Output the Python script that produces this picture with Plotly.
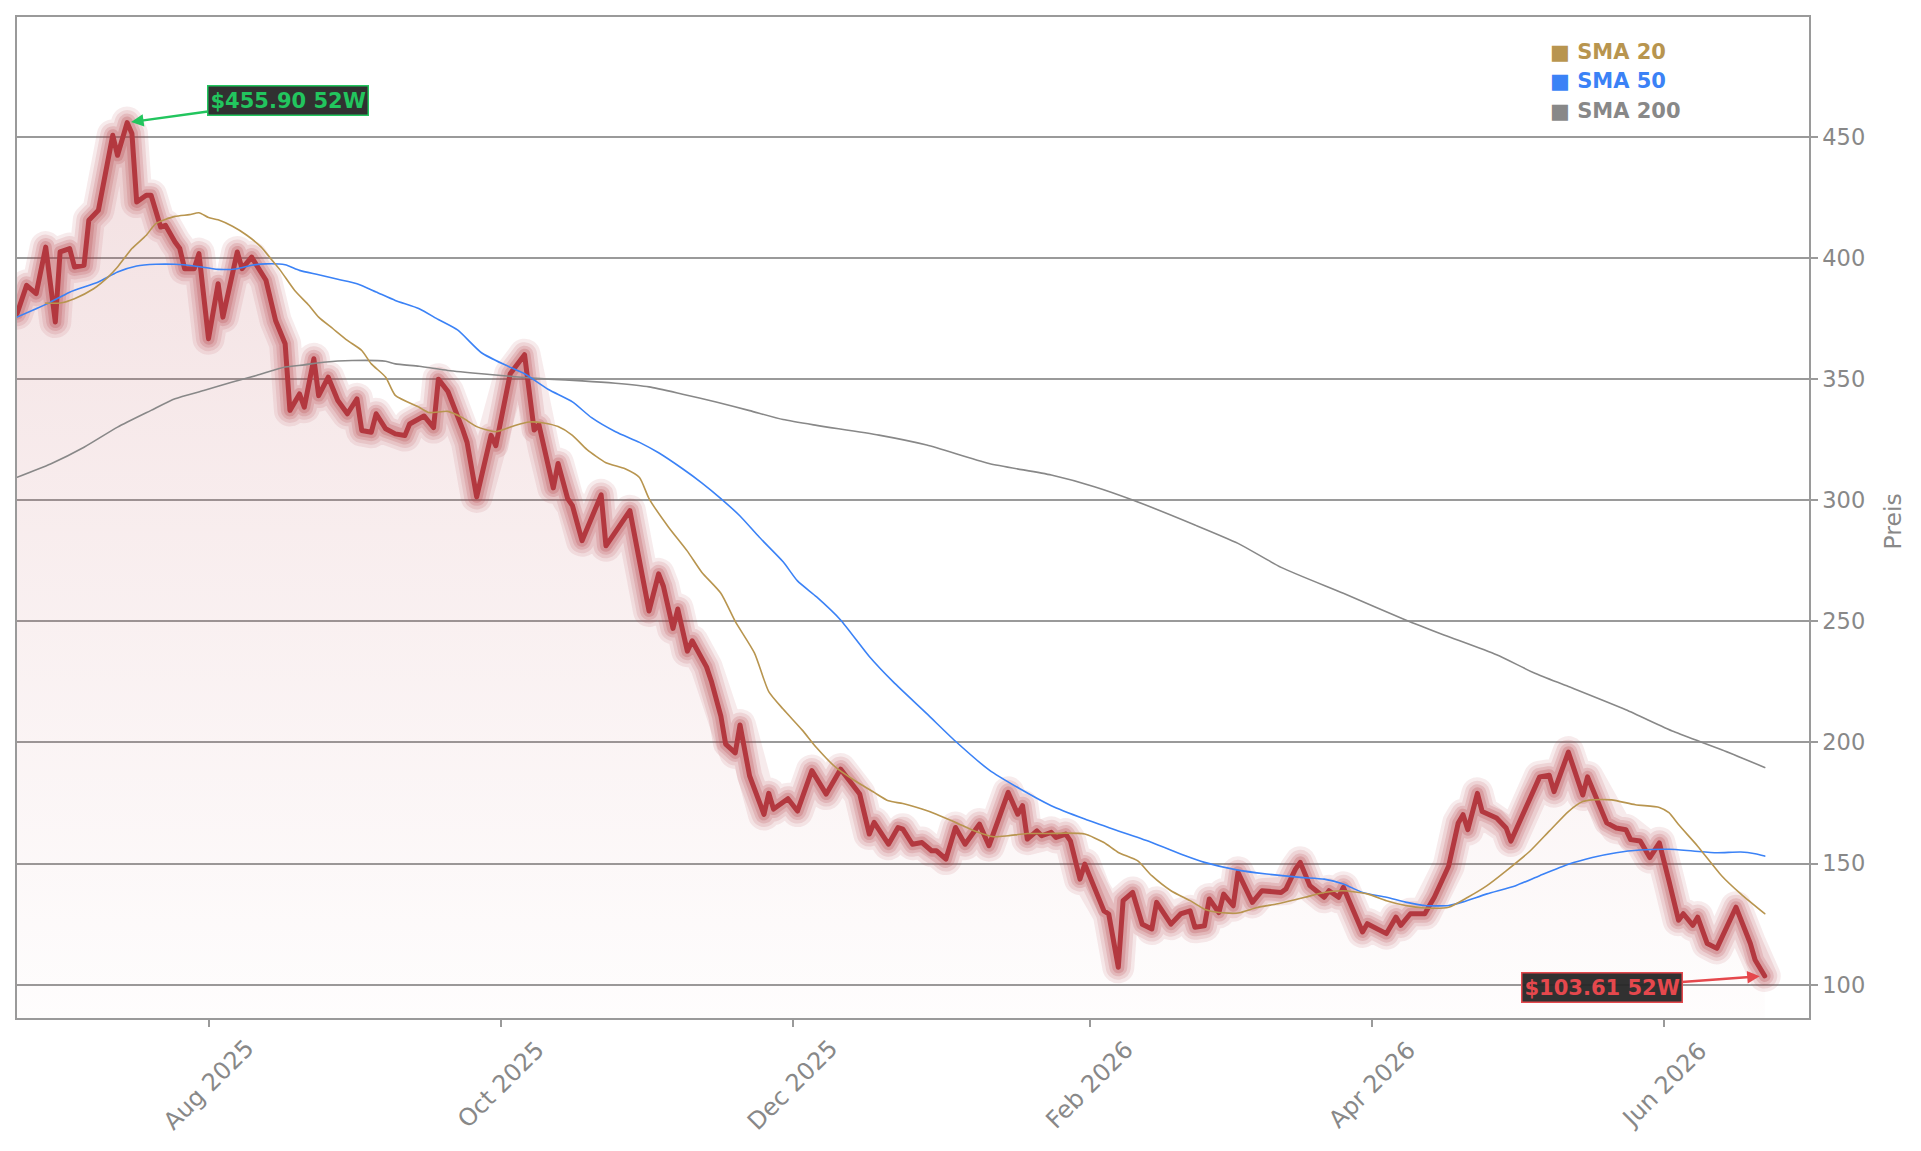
import plotly.graph_objects as go

# ---------------- data ----------------
price_dates = [
    "2025-06-22", "2025-06-24", "2025-06-26", "2025-06-28", "2025-06-30", "2025-07-01", "2025-07-03", "2025-07-04",
    "2025-07-06", "2025-07-07", "2025-07-09", "2025-07-12", "2025-07-13", "2025-07-15", "2025-07-16", "2025-07-17",
    "2025-07-19", "2025-07-20", "2025-07-22", "2025-07-23", "2025-07-25", "2025-07-26", "2025-07-27", "2025-07-29",
    "2025-07-30", "2025-08-01", "2025-08-03", "2025-08-04", "2025-08-07", "2025-08-08", "2025-08-10", "2025-08-13",
    "2025-08-15", "2025-08-17", "2025-08-18", "2025-08-20", "2025-08-21", "2025-08-23", "2025-08-24", "2025-08-26",
    "2025-08-28", "2025-08-30", "2025-09-01", "2025-09-02", "2025-09-04", "2025-09-05", "2025-09-07", "2025-09-09",
    "2025-09-11", "2025-09-12", "2025-09-15", "2025-09-17", "2025-09-18", "2025-09-20", "2025-09-23", "2025-09-24",
    "2025-09-26", "2025-09-27", "2025-09-29", "2025-09-30", "2025-10-03", "2025-10-06", "2025-10-08", "2025-10-09",
    "2025-10-10", "2025-10-12", "2025-10-13", "2025-10-15", "2025-10-16", "2025-10-18", "2025-10-22", "2025-10-23",
    "2025-10-28", "2025-11-01", "2025-11-03", "2025-11-04", "2025-11-06", "2025-11-07", "2025-11-09", "2025-11-10",
    "2025-11-13", "2025-11-14", "2025-11-16", "2025-11-17", "2025-11-19", "2025-11-20", "2025-11-22", "2025-11-25",
    "2025-11-26", "2025-11-27", "2025-11-30", "2025-12-02", "2025-12-05", "2025-12-08", "2025-12-11", "2025-12-13",
    "2025-12-15", "2025-12-17", "2025-12-18", "2025-12-21", "2025-12-23", "2025-12-24", "2025-12-26", "2025-12-28",
    "2025-12-30", "2025-12-31", "2026-01-02", "2026-01-04", "2026-01-06", "2026-01-09", "2026-01-11", "2026-01-13",
    "2026-01-15", "2026-01-17", "2026-01-18", "2026-01-19", "2026-01-21", "2026-01-22", "2026-01-24", "2026-01-25",
    "2026-01-27", "2026-01-28", "2026-01-30", "2026-01-31", "2026-02-02", "2026-02-04", "2026-02-05", "2026-02-07",
    "2026-02-08", "2026-02-10", "2026-02-12", "2026-02-14", "2026-02-15", "2026-02-18", "2026-02-20", "2026-02-22",
    "2026-02-23", "2026-02-25", "2026-02-26", "2026-02-28", "2026-03-01", "2026-03-03", "2026-03-04", "2026-03-07",
    "2026-03-09", "2026-03-13", "2026-03-14", "2026-03-16", "2026-03-17", "2026-03-19", "2026-03-22", "2026-03-23",
    "2026-03-25", "2026-03-26", "2026-03-30", "2026-03-31", "2026-04-04", "2026-04-06", "2026-04-07", "2026-04-09",
    "2026-04-12", "2026-04-14", "2026-04-17", "2026-04-19", "2026-04-20", "2026-04-21", "2026-04-23", "2026-04-24",
    "2026-04-27", "2026-04-29", "2026-04-30", "2026-05-04", "2026-05-06", "2026-05-08", "2026-05-09", "2026-05-12",
    "2026-05-14", "2026-05-15", "2026-05-16", "2026-05-20", "2026-05-22", "2026-05-24", "2026-05-25", "2026-05-27",
    "2026-05-29", "2026-05-31", "2026-06-02", "2026-06-04", "2026-06-05", "2026-06-07", "2026-06-08", "2026-06-10",
    "2026-06-12", "2026-06-14", "2026-06-16", "2026-06-19", "2026-06-20", "2026-06-22",
]
price_values = [
    377.0, 388.7, 385.3, 404.5, 373.6, 402.5, 403.9, 396.3,
    397.0, 415.6, 419.7, 450.7, 442.4, 455.9, 451.4, 423.1,
    425.9, 425.9, 412.8, 413.5, 406.6, 403.9, 395.6, 395.6,
    401.8, 366.7, 389.4, 375.6, 402.5, 395.6, 400.4, 390.8,
    374.2, 364.6, 337.1, 343.9, 338.4, 358.4, 343.2, 350.8,
    341.2, 335.7, 341.9, 328.8, 328.1, 335.7, 329.5, 327.4,
    326.7, 331.5, 334.8, 330.0, 350.0, 344.9, 329.7, 323.9,
    301.4, 309.4, 326.8, 322.5, 352.2, 360.1, 329.0, 331.2,
    321.7, 305.1, 315.2, 300.7, 297.8, 283.3, 302.2, 281.2,
    295.7, 254.3, 269.6, 264.5, 247.1, 255.1, 237.7, 242.0,
    231.2, 225.4, 210.9, 199.3, 195.7, 207.2, 186.2, 170.3,
    179.0, 172.5, 176.8, 171.7, 188.4, 178.7, 189.0, 184.2,
    178.7, 162.2, 167.0, 158.0, 164.9, 164.2, 158.0, 158.7,
    155.3, 155.3, 151.9, 164.9, 158.0, 166.3, 157.4, 168.4,
    179.4, 170.4, 173.9, 160.1, 163.5, 161.5, 162.9, 160.8,
    162.2, 159.4, 143.6, 149.8, 139.5, 130.5, 129.2, 107.2,
    134.7, 138.1, 125.0, 123.0, 134.0, 125.0, 129.2, 130.5,
    123.7, 124.3, 135.4, 129.8, 137.4, 132.6, 146.4, 134.0,
    138.8, 138.1, 139.5, 147.7, 150.5, 140.9, 136.1, 138.8,
    136.1, 140.2, 121.8, 125.2, 121.1, 127.9, 124.5, 129.3,
    129.3, 136.1, 149.0, 166.8, 170.2, 164.0, 179.0, 171.5,
    168.8, 164.7, 159.3, 177.7, 185.8, 186.5, 179.7, 196.0,
    183.1, 178.3, 185.8, 166.8, 164.7, 164.0, 159.9, 159.3,
    152.5, 158.6, 142.9, 126.6, 129.3, 124.5, 127.9, 117.0,
    115.0, 123.2, 132.0, 117.0, 110.2, 103.61,
]

sma20_dates = [
    "2025-06-28", "2025-07-01", "2025-07-04", "2025-07-08", "2025-07-11", "2025-07-13", "2025-07-16", "2025-07-19",
    "2025-07-21", "2025-07-25", "2025-07-28", "2025-07-30", "2025-08-01", "2025-08-03", "2025-08-06", "2025-08-09",
    "2025-08-12", "2025-08-14", "2025-08-16", "2025-08-19", "2025-08-22", "2025-08-24", "2025-08-27", "2025-08-30",
    "2025-09-02", "2025-09-04", "2025-09-07", "2025-09-09", "2025-09-14", "2025-09-16", "2025-09-20", "2025-09-23",
    "2025-09-26", "2025-09-30", "2025-10-04", "2025-10-07", "2025-10-10", "2025-10-13", "2025-10-16", "2025-10-19",
    "2025-10-23", "2025-10-27", "2025-10-30", "2025-11-01", "2025-11-05", "2025-11-09", "2025-11-12", "2025-11-16",
    "2025-11-19", "2025-11-23", "2025-11-26", "2025-11-29", "2025-12-03", "2025-12-06", "2025-12-10", "2025-12-14",
    "2025-12-18", "2025-12-21", "2025-12-24", "2025-12-28", "2025-12-31", "2026-01-04", "2026-01-08", "2026-01-12",
    "2026-01-15", "2026-01-19", "2026-01-23", "2026-01-27", "2026-01-31", "2026-02-04", "2026-02-07", "2026-02-11",
    "2026-02-14", "2026-02-18", "2026-02-22", "2026-02-25", "2026-02-28", "2026-03-04", "2026-03-08", "2026-03-12",
    "2026-03-15", "2026-03-18", "2026-03-22", "2026-03-26", "2026-03-31", "2026-04-04", "2026-04-08", "2026-04-12",
    "2026-04-17", "2026-04-21", "2026-04-25", "2026-04-29", "2026-05-04", "2026-05-08", "2026-05-12", "2026-05-15",
    "2026-05-17", "2026-05-21", "2026-05-26", "2026-05-31", "2026-06-02", "2026-06-04", "2026-06-08", "2026-06-13",
    "2026-06-17", "2026-06-22",
]
sma20_values = [
    381.4, 381.4, 383.2, 387.3, 392.1, 396.3, 403.9, 409.4,
    414.2, 417.2, 417.9, 418.7, 416.7, 415.8, 413.1, 409.4,
    404.5, 399.7, 394.9, 386.6, 380.4, 375.6, 370.8, 366.0,
    361.8, 356.3, 350.8, 343.3, 338.4, 336.2, 336.7, 334.1,
    330.4, 328.3, 330.9, 332.3, 331.9, 330.4, 326.8, 321.0,
    315.5, 313.0, 309.4, 300.7, 289.1, 279.0, 270.3, 261.6,
    250.0, 237.0, 221.0, 213.8, 205.1, 197.8, 189.7, 184.2,
    179.4, 175.9, 174.8, 172.5, 170.4, 167.0, 163.5, 161.1,
    161.5, 162.4, 162.4, 162.6, 162.2, 158.7, 154.6, 151.2,
    145.0, 138.8, 134.7, 131.2, 129.8, 129.6, 131.9, 133.3,
    134.7, 136.1, 138.1, 138.8, 137.5, 134.7, 132.7, 131.7,
    132.0, 136.1, 140.9, 147.0, 155.2, 163.4, 171.5, 175.6,
    176.3, 176.3, 174.3, 173.2, 171.0, 166.1, 157.2, 145.0,
    137.5, 129.3,
]

sma50_dates = [
    "2025-06-22", "2025-06-26", "2025-06-29", "2025-07-03", "2025-07-09", "2025-07-13", "2025-07-17", "2025-07-21",
    "2025-07-25", "2025-07-29", "2025-08-03", "2025-08-07", "2025-08-10", "2025-08-13", "2025-08-17", "2025-08-20",
    "2025-08-24", "2025-08-28", "2025-09-01", "2025-09-05", "2025-09-09", "2025-09-14", "2025-09-18", "2025-09-22",
    "2025-09-27", "2025-10-02", "2025-10-06", "2025-10-11", "2025-10-16", "2025-10-20", "2025-10-25", "2025-10-30",
    "2025-11-03", "2025-11-08", "2025-11-12", "2025-11-16", "2025-11-20", "2025-11-24", "2025-11-29", "2025-12-02",
    "2025-12-06", "2025-12-11", "2025-12-17", "2025-12-22", "2025-12-29", "2026-01-04", "2026-01-11", "2026-01-17",
    "2026-01-24", "2026-01-31", "2026-02-07", "2026-02-14", "2026-02-21", "2026-02-25", "2026-03-04", "2026-03-10",
    "2026-03-17", "2026-03-22", "2026-03-26", "2026-03-30", "2026-04-04", "2026-04-08", "2026-04-12", "2026-04-17",
    "2026-04-20", "2026-04-25", "2026-05-01", "2026-05-06", "2026-05-12", "2026-05-17", "2026-05-22", "2026-05-27",
    "2026-06-02", "2026-06-07", "2026-06-12", "2026-06-17", "2026-06-20", "2026-06-22",
]
sma50_values = [
    375.6, 379.1, 381.8, 385.9, 390.1, 394.2, 396.7, 397.4,
    397.4, 396.7, 395.3, 395.6, 397.0, 397.6, 397.2, 394.9,
    393.1, 391.2, 389.4, 386.0, 382.5, 379.1, 374.6, 370.3,
    360.9, 355.8, 352.2, 345.7, 340.6, 334.1, 328.3, 323.9,
    319.6, 313.0, 307.2, 300.7, 293.5, 284.8, 274.6, 266.7,
    260.1, 250.6, 235.5, 225.0, 211.9, 200.5, 188.7, 181.4,
    173.9, 168.4, 163.5, 158.7, 153.2, 150.5, 147.3, 145.7,
    144.3, 143.6, 141.6, 138.1, 136.1, 134.1, 132.7, 132.7,
    134.2, 137.5, 140.9, 145.0, 149.7, 152.5, 154.5, 155.6,
    155.9, 155.2, 154.5, 154.8, 154.1, 153.1,
]

sma200_dates = [
    "2025-06-22", "2025-06-29", "2025-07-06", "2025-07-13", "2025-07-20", "2025-07-25", "2025-07-31", "2025-08-06",
    "2025-08-11", "2025-08-17", "2025-08-21", "2025-08-25", "2025-08-31", "2025-09-07", "2025-09-09", "2025-09-14",
    "2025-09-20", "2025-09-27", "2025-10-04", "2025-10-11", "2025-10-18", "2025-10-25", "2025-11-01", "2025-11-08",
    "2025-11-15", "2025-11-22", "2025-11-29", "2025-12-06", "2025-12-19", "2025-12-29", "2026-01-11", "2026-01-24",
    "2026-02-02", "2026-02-10", "2026-02-23", "2026-03-04", "2026-03-13", "2026-03-26", "2026-04-08", "2026-04-16",
    "2026-04-27", "2026-05-05", "2026-05-12", "2026-05-24", "2026-06-03", "2026-06-13", "2026-06-22",
]
sma200_values = [
    309.5, 315.0, 321.9, 330.2, 337.1, 341.9, 345.3, 348.8,
    351.5, 355.0, 355.9, 357.0, 357.7, 357.4, 356.3, 355.3,
    353.6, 352.2, 351.0, 350.0, 349.3, 348.3, 346.8, 343.8,
    340.6, 337.0, 333.3, 330.9, 326.9, 322.8, 315.2, 310.4,
    305.6, 300.1, 289.8, 282.2, 272.3, 261.6, 250.6, 244.4,
    236.2, 228.6, 223.1, 213.5, 204.5, 197.0, 189.7,
]

x_tick_dates = ["2025-08-01", "2025-10-01", "2025-12-01", "2026-02-01", "2026-04-01", "2026-06-01"]
x_tick_labels = ["Aug 2025", "Oct 2025", "Dec 2025", "Feb 2026", "Apr 2026", "Jun 2026"]
y_tick_values = [100, 150, 200, 250, 300, 350, 400, 450]

series_names = ["SMA 20", "SMA 50", "SMA 200"]
series_colors = ["#B8954F", "#3B82F6", "#888888"]

# ---------------- style ----------------
FONT = "DejaVu Sans"
GRAY = "#9a9a9a"
LABEL = "#888888"
RED = "#B3383F"
GREEN = "#22C55E"
LOWRED = "#E5484D"

fig = go.Figure()

# gradient fill under price
fig.add_trace(go.Scatter(
    x=price_dates, y=price_values, mode="lines", line=dict(width=0, color="rgba(0,0,0,0)"),
    fill="tozeroy",
    fillgradient=dict(type="vertical", start=60, stop=460,
                      colorscale=[[0, "rgba(178,58,66,0.0)"], [1, "rgba(178,58,66,0.16)"]]),
    hoverinfo="skip", showlegend=False,
))

# glow layers
for w, a in [(32, 0.10), (25, 0.13), (18, 0.17), (12, 0.22)]:
    fig.add_trace(go.Scatter(
        x=price_dates, y=price_values, mode="lines",
        line=dict(color=f"rgba(178,58,66,{a})", width=w),
        hoverinfo="skip", showlegend=False,
    ))

# price line
fig.add_trace(go.Scatter(
    x=price_dates, y=price_values, mode="lines", name="Preis",
    line=dict(color=RED, width=5), showlegend=False,
))

# SMA lines
for name, dts, vals, col in [
    ("SMA 200", sma200_dates, sma200_values, series_colors[2]),
    ("SMA 50", sma50_dates, sma50_values, series_colors[1]),
    ("SMA 20", sma20_dates, sma20_values, series_colors[0]),
]:
    fig.add_trace(go.Scatter(
        x=dts, y=vals, mode="lines", name=name,
        line=dict(color=col, width=1.6, shape="spline", smoothing=0.6),
        showlegend=False,
    ))

annotations = []

# rotated x tick labels centred on ticks
for d, lab in zip(x_tick_dates, x_tick_labels):
    annotations.append(dict(
        x=d, xref="x", y=0, yref="paper", yanchor="middle", xanchor="center",
        yshift=-67, text=lab, textangle=-45, showarrow=False,
        font=dict(family=FONT, size=24, color=LABEL),
    ))

# legend-like labels
for i, (name, col) in enumerate(zip(series_names, series_colors)):
    annotations.append(dict(
        x=0.8541, xref="paper", y=0.9650 - i * 0.0294, yref="paper",
        xanchor="left", yanchor="middle", showarrow=False,
        text=f"■ {name}", font=dict(family=FONT, size=21, color=col, weight="bold"),
    ))

# axis title
annotations.append(dict(
    x=1.0469, xref="paper", y=0.4961, yref="paper", xanchor="center", yanchor="middle",
    text="Preis", textangle=-90, showarrow=False,
    font=dict(family=FONT, size=23.5, color=LABEL),
))

# 52W high / low markers
hi = max(price_values)
hi_date = price_dates[price_values.index(hi)]
lo = min(price_values)
lo_date = price_dates[price_values.index(lo)]

annotations.append(dict(
    x=hi_date, y=hi, xref="x", yref="y", text=f"${hi:.2f} 52W",
    showarrow=True, ax=161, ay=-22, arrowcolor=GREEN, arrowwidth=2.5,
    arrowhead=2, arrowsize=1, standoff=4,
    bgcolor="rgba(38,38,38,0.95)", bordercolor=GREEN, borderwidth=1.5, borderpad=2,
    font=dict(family=FONT, size=21, color=GREEN, weight="bold"),
))
annotations.append(dict(
    x=lo_date, y=lo, xref="x", yref="y", text=f"${lo:.2f} 52W",
    showarrow=True, ax=-163, ay=12, arrowcolor=LOWRED, arrowwidth=2.5,
    arrowhead=2, arrowsize=1, standoff=5,
    bgcolor="rgba(38,38,38,0.95)", bordercolor=LOWRED, borderwidth=1.5, borderpad=2,
    font=dict(family=FONT, size=21, color=LOWRED, weight="bold"),
))

fig.update_layout(
    width=1921, height=1151,
    margin=dict(l=17, r=112, t=17, b=133),
    paper_bgcolor="white", plot_bgcolor="white",
    font=dict(family=FONT, size=22, color=LABEL),
    showlegend=False,
    annotations=annotations,
    xaxis=dict(
        type="date", range=["2025-06-22", "2026-07-01 06:00"],
        showgrid=False, zeroline=False,
        showline=True, mirror=True, linecolor=GRAY, linewidth=1.5,
        ticks="outside", ticklen=7, tickwidth=1.5, tickcolor=GRAY,
        tickvals=x_tick_dates, showticklabels=False,
    ),
    yaxis=dict(
        side="right", range=[86.26, 499.5],
        tickvals=y_tick_values,
        showgrid=True, gridcolor=GRAY, gridwidth=1.5, zeroline=False,
        showline=True, mirror=True, linecolor=GRAY, linewidth=1.5,
        ticks="outside", ticklen=7, tickwidth=1.5, tickcolor=GRAY,
        tickfont=dict(family=FONT, size=22.5, color=LABEL),
    ),
)

round_joins = (
    "var gd = document.getElementById('{plot_id}');"
    "gd.querySelectorAll('.scatterlayer path.js-line').forEach(function(p){"
    "p.style.strokeLinejoin='round'; p.style.strokeLinecap='round';});"
)

fig.write_html("out.html", post_script=round_joins)
